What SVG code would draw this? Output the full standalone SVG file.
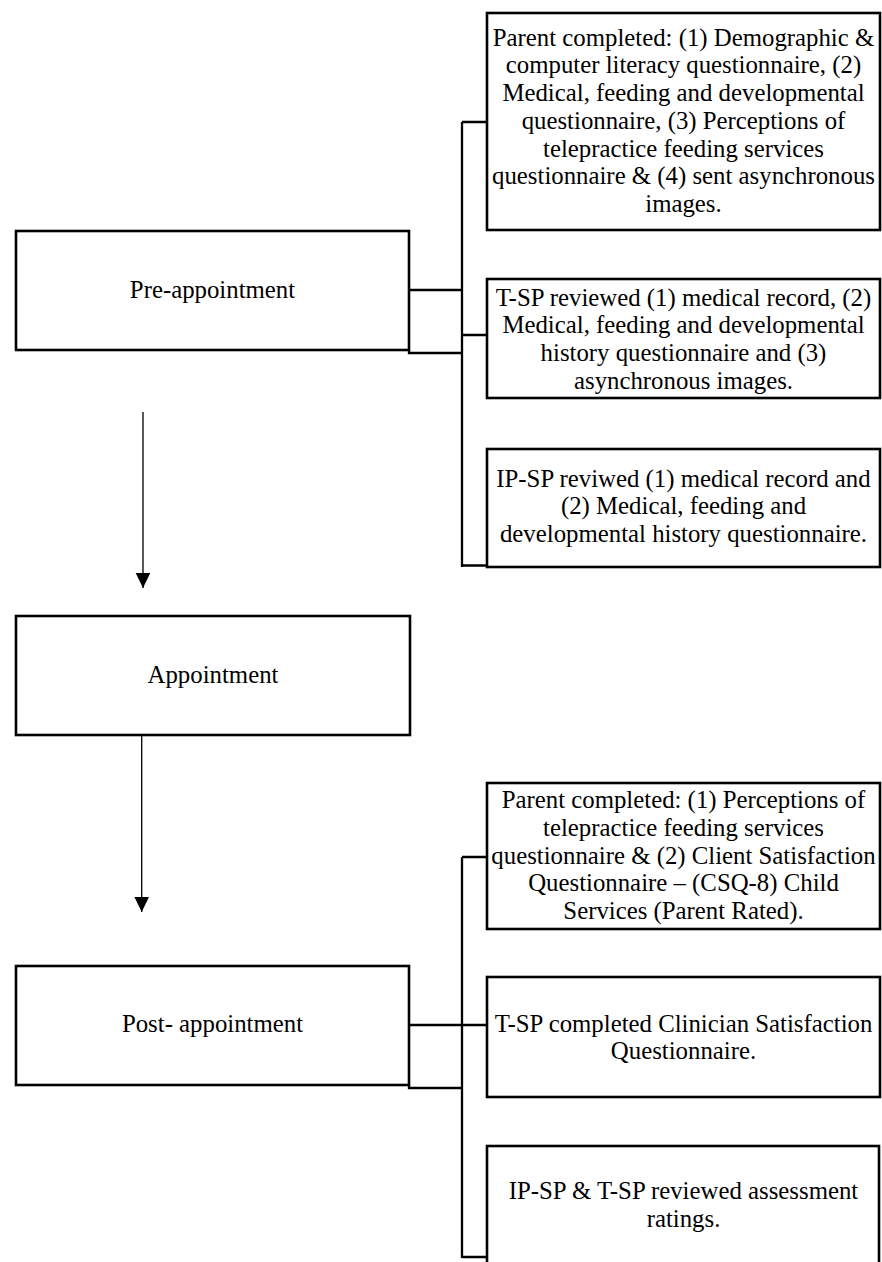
<svg xmlns="http://www.w3.org/2000/svg" width="882" height="1262" viewBox="0 0 882 1262">
<defs>
<style>
.box{fill:#fff;stroke:#000;stroke-width:2.6}
.con{fill:none;stroke:#000;stroke-width:2.3}
.arr{fill:none;stroke:#000;stroke-width:1.3}
text{font-family:"Liberation Serif","Times New Roman",serif;font-size:24.8px;fill:#000;text-anchor:middle}
</style>
<marker id="ah" markerUnits="userSpaceOnUse" viewBox="0 0 15 15" markerWidth="15" markerHeight="15" refX="15" refY="7.3" orient="auto">
<path d="M0,0 L15,7.3 L0,14.6 Z" fill="#000"/>
</marker>
</defs>
<rect width="882" height="1262" fill="#fff"/>
<g id="connectors">
<path class="con" d="M462,122 V567 M462,122 H487 M462,335 H487 M462,565.5 H487 M409,290 H462 M409,350 V353 H462"/>
<path class="con" d="M462,857 V1258 M462,857 H487 M409,1025 H487 M409,1085 V1088 H462 M462,1257 H487"/>
<line class="arr" x1="143" y1="412" x2="143" y2="588" marker-end="url(#ah)"/>
<line class="arr" x1="141.7" y1="735" x2="141.7" y2="912" marker-end="url(#ah)"/>
</g>
<g id="pre-appointment">
<rect class="box" x="16" y="231" width="393" height="119"/>
<text x="212.5" y="298.3">Pre-appointment</text>
</g>
<g id="appointment">
<rect class="box" x="16" y="616" width="394" height="119"/>
<text x="213" y="682.7">Appointment</text>
</g>
<g id="post-appointment">
<rect class="box" x="16" y="966" width="393" height="119"/>
<text x="212.5" y="1031.7">Post- appointment</text>
</g>
<g id="pre-parent">
<rect class="box" x="487" y="13" width="393" height="217"/>
<text x="683.5" y="45.7">Parent completed: (1) Demographic &amp;</text>
<text x="683.5" y="73.4">computer literacy questionnaire, (2)</text>
<text x="683.5" y="101.1">Medical, feeding and developmental</text>
<text x="683.5" y="128.8">questionnaire, (3) Perceptions of</text>
<text x="683.5" y="156.5">telepractice feeding services</text>
<text x="683.5" y="184.2">questionnaire &amp; (4) sent asynchronous</text>
<text x="683.5" y="211.9">images.</text>
</g>
<g id="pre-tsp">
<rect class="box" x="487" y="279" width="393" height="119"/>
<text x="683.5" y="305.5">T-SP reviewed (1) medical record, (2)</text>
<text x="683.5" y="333.2">Medical, feeding and developmental</text>
<text x="683.5" y="360.9">history questionnaire and (3)</text>
<text x="683.5" y="388.6">asynchronous images.</text>
</g>
<g id="pre-ipsp">
<rect class="box" x="487" y="449" width="393" height="118"/>
<text x="683.5" y="486.7">IP-SP reviwed (1) medical record and</text>
<text x="683.5" y="514.4">(2) Medical, feeding and</text>
<text x="683.5" y="542.1">developmental history questionnaire.</text>
</g>
<g id="post-parent">
<rect class="box" x="487" y="783" width="393" height="146"/>
<text x="683.5" y="808.3">Parent completed: (1) Perceptions of</text>
<text x="683.5" y="836">telepractice feeding services</text>
<text x="683.5" y="863.7">questionnaire &amp; (2) Client Satisfaction</text>
<text x="683.5" y="891.4">Questionnaire – (CSQ-8) Child</text>
<text x="683.5" y="919">Services (Parent Rated).</text>
</g>
<g id="post-tsp">
<rect class="box" x="487" y="977" width="393" height="120"/>
<text x="683.5" y="1031.7">T-SP completed Clinician Satisfaction</text>
<text x="683.5" y="1059.4">Questionnaire.</text>
</g>
<g id="post-review">
<rect class="box" x="487" y="1146" width="392" height="130"/>
<text x="683.5" y="1199.3">IP-SP &amp; T-SP reviewed assessment</text>
<text x="683.5" y="1227">ratings.</text>
</g>
</svg>
